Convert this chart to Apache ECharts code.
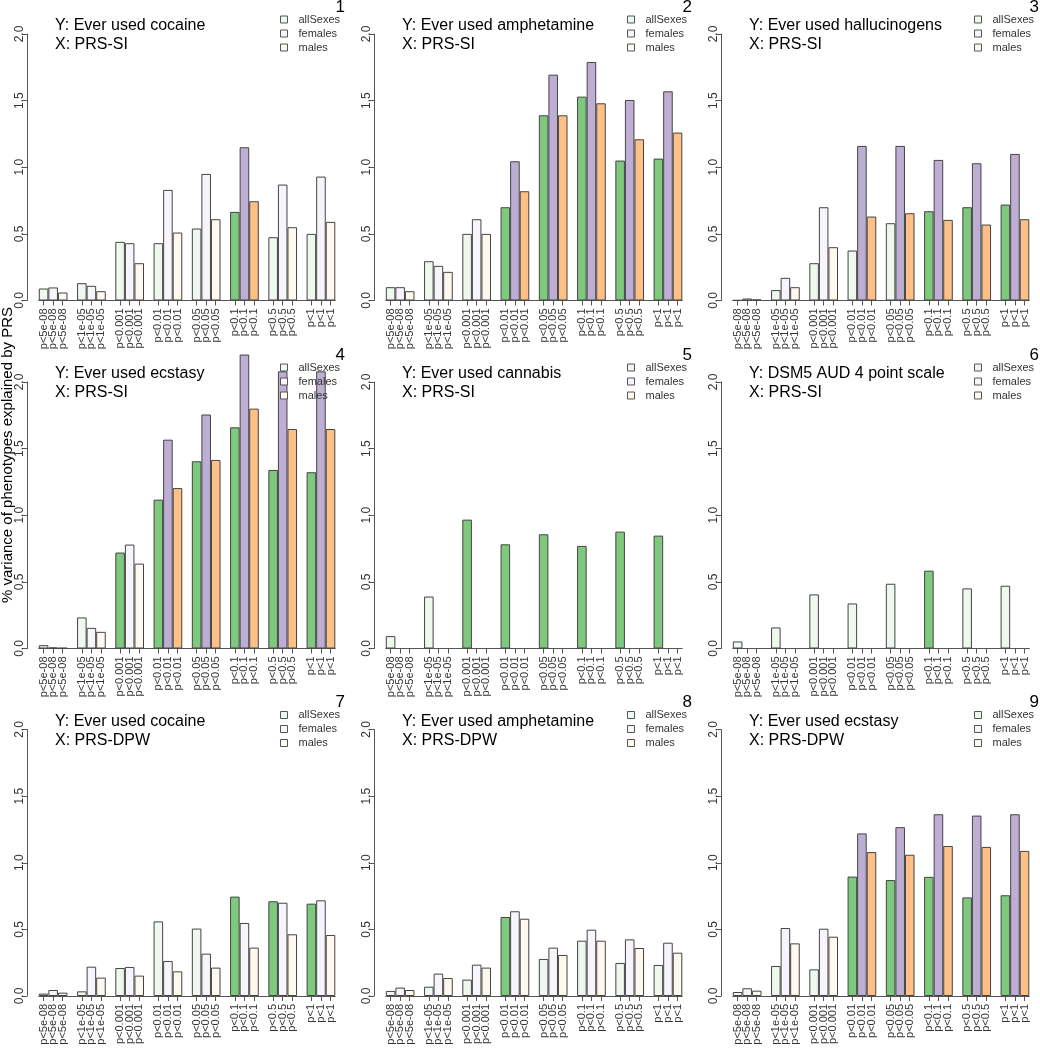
<!DOCTYPE html>
<html><head><meta charset="utf-8">
<script src="https://cdn.jsdelivr.net/npm/echarts@6/dist/echarts.min.js"></script>
<style>html,body{margin:0;padding:0;background:#fff}#c{width:1040px;height:1050px}</style>
</head><body><div id="c"></div><script>
// ---------- data ----------
const groups = ["p<5e-08","p<1e-05","p<0.001","p<0.01","p<0.05","p<0.1","p<0.5","p<1"];
const sexes = ["allSexes","females","males"];
const yTicks = [0, 0.5, 1, 1.5, 2];
const panelY = ["Y: Ever used cocaine","Y: Ever used amphetamine","Y: Ever used hallucinogens",
                "Y: Ever used ecstasy","Y: Ever used cannabis","Y: DSM5 AUD 4 point scale",
                "Y: Ever used cocaine","Y: Ever used amphetamine","Y: Ever used ecstasy"];
const panelX = ["X: PRS-SI","X: PRS-SI","X: PRS-SI","X: PRS-SI","X: PRS-SI","X: PRS-SI",
                "X: PRS-DPW","X: PRS-DPW","X: PRS-DPW"];
const panelNo = ["1","2","3","4","5","6","7","8","9"];

const p1All  = [0.09,0.13,0.44,0.43,0.54,0.665,0.475,0.50];
const p1Fem  = [0.098,0.11,0.43,0.83,0.95,1.15,0.87,0.93];
const p1Male = [0.06,0.07,0.28,0.51,0.61,0.745,0.55,0.59];
const p1SigAll = [0,0,0,0,0,1,0,0], p1SigFem = [0,0,0,0,0,1,0,0], p1SigMale = [0,0,0,0,0,1,0,0];

const p2All  = [0.10,0.295,0.50,0.70,1.39,1.53,1.05,1.065];
const p2Fem  = [0.10,0.26,0.61,1.045,1.695,1.79,1.505,1.57];
const p2Male = [0.07,0.215,0.50,0.82,1.39,1.48,1.21,1.26];
const p2SigAll = [0,0,0,1,1,1,1,1], p2SigFem = [0,0,0,1,1,1,1,1], p2SigMale = [0,0,0,1,1,1,1,1];

const p3All  = [0.002,0.078,0.28,0.375,0.58,0.67,0.70,0.72];
const p3Fem  = [0.015,0.17,0.70,1.16,1.16,1.055,1.03,1.10];
const p3Male = [0.008,0.10,0.40,0.63,0.655,0.605,0.57,0.61];
const p3SigAll = [0,0,0,0,0,1,1,1], p3SigFem = [0,0,0,1,1,1,1,1], p3SigMale = [0,0,0,1,1,1,1,1];

const p4All  = [0.025,0.233,0.72,1.117,1.405,1.66,1.34,1.323];
const p4Fem  = [0.008,0.155,0.78,1.567,1.756,2.206,2.08,2.08];
const p4Male = [0.005,0.125,0.637,1.204,1.415,1.80,1.647,1.647];
const p4SigAll = [0,0,1,1,1,1,1,1], p4SigFem = [0,0,0,1,1,1,1,1], p4SigMale = [0,0,0,1,1,1,1,1];

const p5All  = [0.093,0.39,0.967,0.782,0.857,0.77,0.877,0.847];
const p5Fem  = [null,null,null,null,null,null,null,null];
const p5Male = [null,null,null,null,null,null,null,null];
const p5SigAll = [0,0,1,1,1,1,1,1], p5SigFem = [0,0,0,0,0,0,0,0], p5SigMale = [0,0,0,0,0,0,0,0];

const p6All  = [0.053,0.158,0.406,0.338,0.486,0.584,0.451,0.471];
const p6Fem  = [null,null,null,null,null,null,null,null];
const p6Male = [null,null,null,null,null,null,null,null];
const p6SigAll = [0,0,0,0,0,1,0,0], p6SigFem = [0,0,0,0,0,0,0,0], p6SigMale = [0,0,0,0,0,0,0,0];

const p7All  = [0.018,0.035,0.21,0.56,0.506,0.746,0.711,0.693];
const p7Fem  = [0.045,0.22,0.218,0.263,0.318,0.548,0.70,0.718];
const p7Male = [0.025,0.138,0.153,0.185,0.213,0.363,0.463,0.458];
const p7SigAll = [0,0,0,0,0,1,1,1], p7SigFem = [0,0,0,0,0,0,0,0], p7SigMale = [0,0,0,0,0,0,0,0];

const p8All  = [0.038,0.07,0.123,0.593,0.278,0.415,0.248,0.233];
const p8Fem  = [0.063,0.168,0.235,0.636,0.363,0.498,0.425,0.40];
const p8Male = [0.045,0.135,0.213,0.58,0.308,0.415,0.36,0.325];
const p8SigAll = [0,0,0,1,0,0,0,0], p8SigFem = [0,0,0,0,0,0,0,0], p8SigMale = [0,0,0,0,0,0,0,0];

const p9All  = [0.03,0.225,0.20,0.896,0.87,0.894,0.74,0.756];
const p9Fem  = [0.058,0.51,0.505,1.22,1.267,1.364,1.354,1.364];
const p9Male = [0.04,0.395,0.445,1.08,1.06,1.126,1.119,1.089];
const p9SigAll = [0,0,0,1,1,1,1,1], p9SigFem = [0,0,0,1,1,1,1,1], p9SigMale = [0,0,0,1,1,1,1,1];

// ---------- assembly ----------
const panels = [
  [[p1All,p1Fem,p1Male],[p1SigAll,p1SigFem,p1SigMale]],
  [[p2All,p2Fem,p2Male],[p2SigAll,p2SigFem,p2SigMale]],
  [[p3All,p3Fem,p3Male],[p3SigAll,p3SigFem,p3SigMale]],
  [[p4All,p4Fem,p4Male],[p4SigAll,p4SigFem,p4SigMale]],
  [[p5All,p5Fem,p5Male],[p5SigAll,p5SigFem,p5SigMale]],
  [[p6All,p6Fem,p6Male],[p6SigAll,p6SigFem,p6SigMale]],
  [[p7All,p7Fem,p7Male],[p7SigAll,p7SigFem,p7SigMale]],
  [[p8All,p8Fem,p8Male],[p8SigAll,p8SigFem,p8SigMale]],
  [[p9All,p9Fem,p9Male],[p9SigAll,p9SigFem,p9SigMale]]
];
const strong = ["#7FC97F","#BEAED4","#FDC086"];
const pale   = ["#eef8ee","#f7f5fb","#fff8ef"];
const FONT = "'Liberation Sans', Arial, Helvetica, sans-serif";

// category list: 3 bars per group, one blank spacer between groups
const cats = [];
groups.forEach((g, gi) => { for (let s = 0; s < 3; s++) cats.push(g); if (gi < groups.length - 1) cats.push(""); });

const colX = [27, 374, 721];
const rowTop = [34, 382, 729.5];
const plotH = 266.5, plotW = 296.5, inset = 11.8;

const grid = [], xAxis = [], yAxis = [], series = [], legend = [], graphic = [];
panels.forEach((p, i) => {
  const r = Math.floor(i / 3), c = i % 3;
  const ax = colX[c], top = rowTop[r];
  grid.push({ left: ax + inset, top: top, width: plotW, height: plotH });
  xAxis.push({
    type: 'category', gridIndex: i, data: cats,
    axisLine: { show: true, lineStyle: { color: '#555', width: 1 } },
    axisTick: { show: true, alignWithLabel: true, length: 5, lineStyle: { color: '#555' },
                interval: function (idx, val) { return val !== ''; } },
    axisLabel: { interval: 0, rotate: 90, fontSize: 11, margin: 8, color: '#333', fontFamily: FONT },
    splitLine: { show: false }
  });
  yAxis.push({
    type: 'value', gridIndex: i, min: yTicks[0], max: yTicks[yTicks.length - 1], interval: 0.5,
    offset: inset,
    axisLine: { show: true, lineStyle: { color: '#555', width: 1 } },
    axisTick: { show: true, length: 5, lineStyle: { color: '#555' } },
    axisLabel: { rotate: 90, fontSize: 12, margin: 1, color: '#333', fontFamily: FONT,
                 align: 'center', verticalAlign: 'bottom',
                 formatter: v => v.toFixed(1) },
    splitLine: { show: false }
  });
  const vals = p[0], sig = p[1];
  for (let s = 0; s < 3; s++) {
    const data = new Array(cats.length).fill('-');
    vals[s].forEach((v, gi) => {
      if (v === null) return;
      data[gi * 4 + s] = sig[s][gi] ? { value: v, itemStyle: { color: strong[s] } } : v;
    });
    series.push({
      type: 'bar', name: sexes[s], xAxisIndex: i, yAxisIndex: i, stack: 'st' + i,
      barCategoryGap: '0%', barGap: '0%', clip: false, silent: true, animation: false,
      itemStyle: { color: pale[s], borderColor: '#444', borderWidth: 1 },
      emphasis: { disabled: true },
      data: data
    });
  }
  legend.push({
    orient: 'vertical', left: ax + 253, top: top - 21, padding: 0,
    itemWidth: 7, itemHeight: 7, itemGap: 1, icon: 'rect', selectedMode: false,
    data: sexes,
    itemStyle: { borderColor: '#555', borderWidth: 1 },
    textStyle: { fontSize: 11, color: '#333', lineHeight: 13, fontFamily: FONT, padding: [0, 0, 0, 6] }
  });
  graphic.push({ type: 'text', left: ax + 28, top: top - 16, silent: true,
    style: { text: panelY[i], fontSize: 16, fill: '#000', fontFamily: FONT } });
  graphic.push({ type: 'text', left: ax + 28, top: top + 3, silent: true,
    style: { text: panelX[i], fontSize: 16, fill: '#000', fontFamily: FONT } });
  graphic.push({ type: 'text', x: ax + 318, y: top - 27, silent: true,
    style: { text: panelNo[i], fontSize: 17, fill: '#000', fontFamily: FONT, align: 'right', verticalAlign: 'middle' } });
});
graphic.push({ type: 'text', x: 8, y: 455, rotation: Math.PI / 2, silent: true,
  style: { text: '% variance of phenotypes explained by PRS', fontSize: 15, fill: '#000', fontFamily: FONT,
           align: 'center', verticalAlign: 'middle' } });

const chart = echarts.init(document.getElementById('c'), null, { renderer: 'canvas' });
chart.setOption({ animation: false, backgroundColor: '#fff', grid, xAxis, yAxis, series, legend, graphic });
</script></body></html>
